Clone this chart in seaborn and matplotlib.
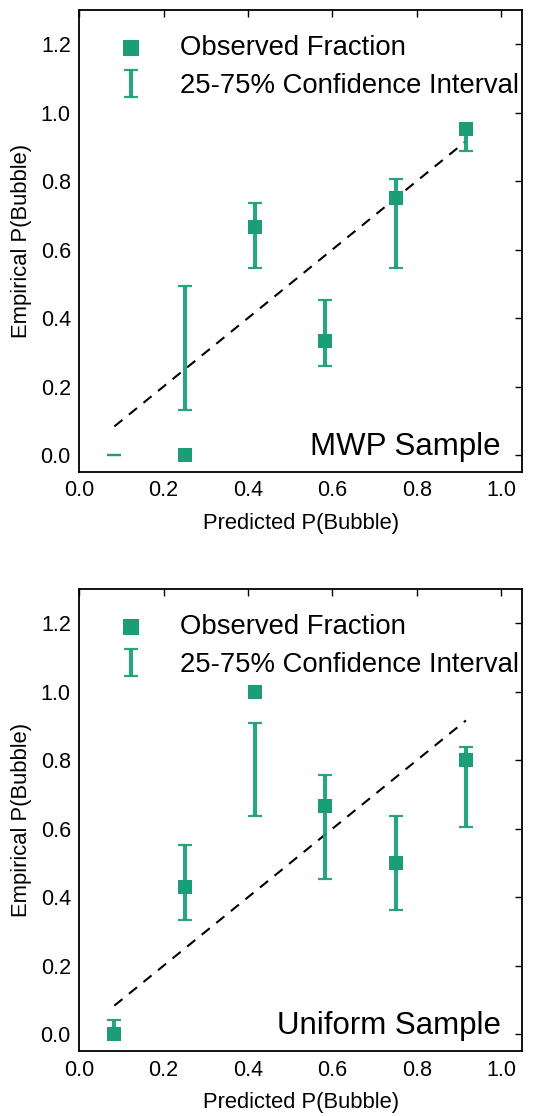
import numpy as np
import pandas as pd
import matplotlib
matplotlib.use("Agg")
import matplotlib.pyplot as plt
import seaborn as sns

# ---- data ----
bin_centers = [1/12, 3/12, 5/12, 7/12, 9/12, 11/12]

mwp_observed = [np.nan, 0.0, 0.667, 0.333, 0.75, 0.953]
mwp_ci_low = [0.0, 0.131, 0.546, 0.261, 0.546, 0.887]
mwp_ci_high = [0.0, 0.494, 0.737, 0.454, 0.806, 0.955]

uni_observed = [0.0, 0.43, 1.0, 0.667, 0.5, 0.80]
uni_ci_low = [0.0, 0.333, 0.636, 0.454, 0.362, 0.605]
uni_ci_high = [0.04, 0.553, 0.908, 0.757, 0.636, 0.838]

panel_titles = ["MWP Sample", "Uniform Sample"]
x_ticks = [0.0, 0.2, 0.4, 0.6, 0.8, 1.0]
y_ticks = [0.0, 0.2, 0.4, 0.6, 0.8, 1.0, 1.2]

COLOR = "#1b9e77"

sns.set_theme(style="white")
plt.rcParams["font.family"] = ["Liberation Sans", "DejaVu Sans"]
plt.rcParams["text.color"] = "black"
plt.rcParams["axes.labelcolor"] = "black"
plt.rcParams["xtick.color"] = "black"
plt.rcParams["ytick.color"] = "black"
plt.rcParams["xtick.direction"] = "in"
plt.rcParams["ytick.direction"] = "in"

fig = plt.figure(figsize=(5.35, 11.16), dpi=100)
ax_top = fig.add_axes([0.148, 0.577, 0.828, 0.414])
ax_bot = fig.add_axes([0.148, 0.058, 0.828, 0.414])

panels = [
    (ax_top, mwp_observed, mwp_ci_low, mwp_ci_high, panel_titles[0]),
    (ax_bot, uni_observed, uni_ci_low, uni_ci_high, panel_titles[1]),
]

for ax, obs, lo, hi, title in panels:
    df = pd.DataFrame({"x": bin_centers, "obs": obs, "lo": lo, "hi": hi})
    mid = (df["lo"] + df["hi"]) / 2
    half = (df["hi"] - df["lo"]) / 2
    # identity line
    sns.lineplot(x=[bin_centers[0], bin_centers[-1]], y=[bin_centers[0], bin_centers[-1]],
                 ax=ax, color="black", linestyle=(0, (5, 4)), linewidth=1.5, zorder=1)
    # observed fraction markers
    sns.scatterplot(data=df, x="x", y="obs", ax=ax, marker="s", s=105,
                    color=COLOR, linewidth=0, label="Observed Fraction", zorder=3)
    # confidence interval
    ax.errorbar(df["x"], mid, yerr=half, fmt="none", ecolor=COLOR, alpha=0.93,
                elinewidth=3, capsize=4.8, capthick=1.6,
                label="25-75% Confidence Interval", zorder=2)

    ax.set_xlim(0, 1.05)
    ax.set_ylim(-0.05, 1.3)
    ax.set_xticks(x_ticks)
    ax.set_yticks(y_ticks)
    ax.set_xticklabels([f"{t:.1f}" for t in x_ticks])
    ax.set_yticklabels([f"{t:.1f}" for t in y_ticks])
    ax.tick_params(axis="both", which="major", direction="in", length=5, width=1,
                   labelsize=15.5, top=True, right=True, pad=6, colors="black")
    for sp in ax.spines.values():
        sp.set_visible(True)
        sp.set_color("black")
        sp.set_linewidth(1.3)
    ax.set_xlabel("Predicted P(Bubble)", fontsize=15.8, labelpad=8, color="black")
    ax.set_ylabel("Empirical P(Bubble)", fontsize=15.8, labelpad=6, color="black")
    ax.text(1.0, 0.0, title, ha="right", va="baseline", fontsize=22.5, color="black")
    leg = ax.legend(loc="upper left", frameon=False, fontsize=19.8, handlelength=1.95,
                    handletextpad=0.8, labelspacing=0.45, borderaxespad=0.5,
                    markerscale=1.1)
    for t in leg.get_texts():
        t.set_color("black")

fig.savefig("out.png", dpi=100)
